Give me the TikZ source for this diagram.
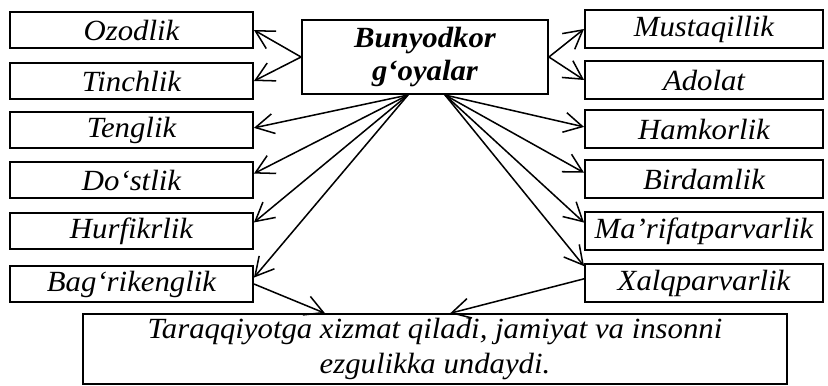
\documentclass[tikz,border=0pt]{standalone}
\usepackage{fontspec}
\setmainfont{Liberation Serif}[FakeStretch=1.05]
\usetikzlibrary{arrows.meta}

\begin{document}
\begin{tikzpicture}[x=0.03cm,y=-0.03cm,
  lbox/.style={draw,line width=1.6pt,inner sep=0pt,minimum width=7.29cm,minimum height=1.08cm,font=\fontsize{25}{27}\selectfont\itshape},
  rbox/.style={lbox,minimum width=7.14cm,minimum height=1.12cm},
  link/.style={-{Straight Barb[length=5.5mm,width=6mm,line width=1.3pt]},line width=1.3pt}]
\useasboundingbox (0,0) rectangle (828,385);
% centre
\node[draw,line width=1.6pt,minimum width=7.38cm,minimum height=2.22cm,align=center,font=\fontsize{25}{28}\selectfont\bfseries\itshape] (bunyod) at (425,57) {Bunyodkor\\g‘oyalar};
% left column
\node[lbox] (ozod) at (131.5,30) {Ozodlik};
\node[lbox] (tinch) at (131.5,81) {Tinchlik};
\node[lbox] (teng) at (131.5,130) {Tenglik};
\node[lbox] (dost) at (131.5,180) {Do‘stlik};
\node[lbox] (hurf) at (131.5,231) {Hurfikrlik};
\node[lbox] (bagr) at (131.5,284) {Bag‘rikenglik};
% right column
\node[rbox] (must) at (704,29) {Mustaqillik};
\node[rbox] (adol) at (704,80) {Adolat};
\node[rbox] (hamk) at (704,129) {Hamkorlik};
\node[rbox] (bird) at (704,179) {Birdamlik};
\node[rbox] (marf) at (704,231) {Ma’rifatparvarlik};
\node[rbox] (xalq) at (704,283) {Xalqparvarlik};
% bottom
\node[draw,line width=1.6pt,minimum width=21.12cm,minimum height=2.04cm,align=center,font=\fontsize{25}{30}\selectfont\itshape] (natija) at (435,349) {Taraqqiyotga xizmat qiladi, jamiyat va insonni\\ezgulikka undaydi.};
\coordinate (lfan) at (408,95);
\coordinate (rfan) at (445,95);
\draw[link] (bunyod.west) -- (ozod.east);
\draw[link] (bunyod.west) -- (tinch.east);
\draw[link] (bunyod.east) -- (must.west);
\draw[link] (bunyod.east) -- (adol.west);
\draw[link] (lfan) -- (teng.1.5);
\draw[link] (lfan) -- (dost.3);
\draw[link] (lfan) -- (hurf.4);
\draw[link] (lfan) -- (bagr.3);
\draw[link] (rfan) -- (hamk.179);
\draw[link] (rfan) -- (bird.177);
\draw[link] (rfan) -- (marf.176.5);
\draw[link] (rfan) -- (xalq.172.3);
\draw[link] (bagr.east) -- (natija.162);
\draw[link] (xalq.178) -- (natija.67);
\end{tikzpicture}
\end{document}
